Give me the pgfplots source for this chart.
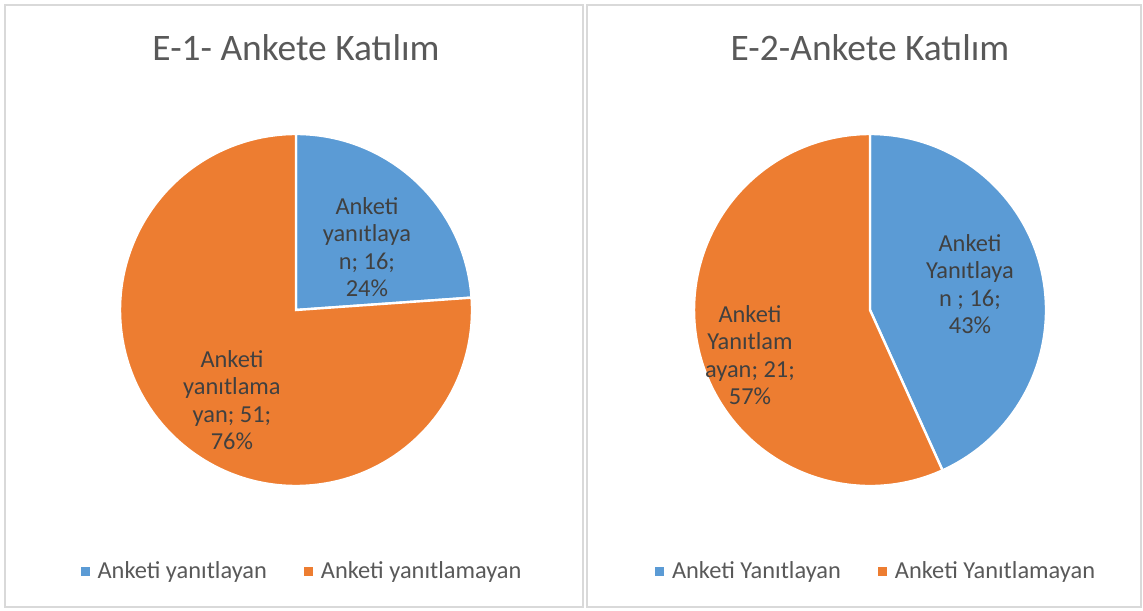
\documentclass[border=0pt]{standalone}
\usepackage{pgfplots}
\pgfplotsset{compat=1.18}
\usepackage{fontspec}
\setmainfont{Carlito}
\definecolor{sliceblue}{HTML}{5B9BD5}
\definecolor{sliceorange}{HTML}{ED7D31}
\definecolor{titlegray}{HTML}{595959}
\definecolor{labelgray}{HTML}{404040}
\definecolor{framegray}{HTML}{D9D9D9}

% survey counts (answered / not answered)
\def\EoneYes{16}\def\EoneNo{51}
\def\EtwoYes{16}\def\EtwoNo{21}
\pgfmathsetmacro\angOne{360*\EoneYes/(\EoneYes+\EoneNo)}
\pgfmathsetmacro\angTwo{360*\EtwoYes/(\EtwoYes+\EtwoNo)}

\pgfplotsset{
  pie/.style={
    hide axis, scale only axis, clip=false,
    width=176pt, height=176pt,
    xmin=-1, xmax=1, ymin=-1, ymax=1,
    anchor=center,
    title style={at={(0.5,1.212)}, anchor=center,
      font=\fontsize{18.7}{22}\selectfont, text=titlegray},
    legend style={at={(0.52,-0.244)}, anchor=center, draw=none, fill=none,
      font=\fontsize{12.2}{14}\selectfont, text=titlegray,
      /tikz/every even column/.append style={column sep=16.5pt}},
    legend columns=2,
    legend image code/.code={\fill[##1, draw=none] (0pt,-2.25pt) rectangle (4.5pt,2.25pt);
      \path[draw=none, fill=none] (0pt,0pt) rectangle (6.5pt,0pt);},
  },
}
\tikzset{lbl/.style={align=center, text=labelgray, font=\fontsize{12.2}{13.75}\selectfont}}

\begin{document}
\begin{tikzpicture}
\fill[white] (0,0) rectangle (571.5pt,305pt);
\draw[framegray, line width=1pt] (2.5pt,1.5pt) rectangle (291.5pt,302.5pt);
\draw[framegray, line width=1pt] (293.5pt,1.5pt) rectangle (570.5pt,302.5pt);

\begin{axis}[pie, at={(148pt,150pt)}, title={E-1- Ankete Katılım}]
  \addlegendimage{fill=sliceblue}
  \addlegendentry{Anketi yanıtlayan}
  \addlegendimage{fill=sliceorange}
  \addlegendentry{Anketi yanıtlamayan}
  \fill[sliceblue, draw=white, line width=1.2pt] (axis cs:0,0) -- ++(90:88pt)
    arc[start angle=90, end angle=90-\angOne, radius=88pt] -- cycle;
  \fill[sliceorange, draw=white, line width=1.2pt] (axis cs:0,0) -- ++(90-\angOne:88pt)
    arc[start angle=90-\angOne, end angle=-270, radius=88pt] -- cycle;
  \node[lbl] at (axis cs:0.403,0.358) {Anketi\\yanıtlaya\\n; 16;\\24\%};
  \node[lbl] at (axis cs:-0.364,-0.511) {Anketi\\yanıtlama\\yan; 51;\\76\%};
\end{axis}

\begin{axis}[pie, at={(435pt,150pt)}, title={E-2-Ankete Katılım}]
  \addlegendimage{fill=sliceblue}
  \addlegendentry{Anketi Yanıtlayan}
  \addlegendimage{fill=sliceorange}
  \addlegendentry{Anketi Yanıtlamayan}
  \fill[sliceblue, draw=white, line width=1.2pt] (axis cs:0,0) -- ++(90:88pt)
    arc[start angle=90, end angle=90-\angTwo, radius=88pt] -- cycle;
  \fill[sliceorange, draw=white, line width=1.2pt] (axis cs:0,0) -- ++(90-\angTwo:88pt)
    arc[start angle=90-\angTwo, end angle=-270, radius=88pt] -- cycle;
  \node[lbl] at (axis cs:0.568,0.148) {Anketi\\Yanıtlaya\\n ; 16;\\43\%};
  \node[lbl] at (axis cs:-0.682,-0.256) {Anketi\\Yanıtlam\\ayan; 21;\\57\%};
\end{axis}
\end{tikzpicture}
\end{document}
